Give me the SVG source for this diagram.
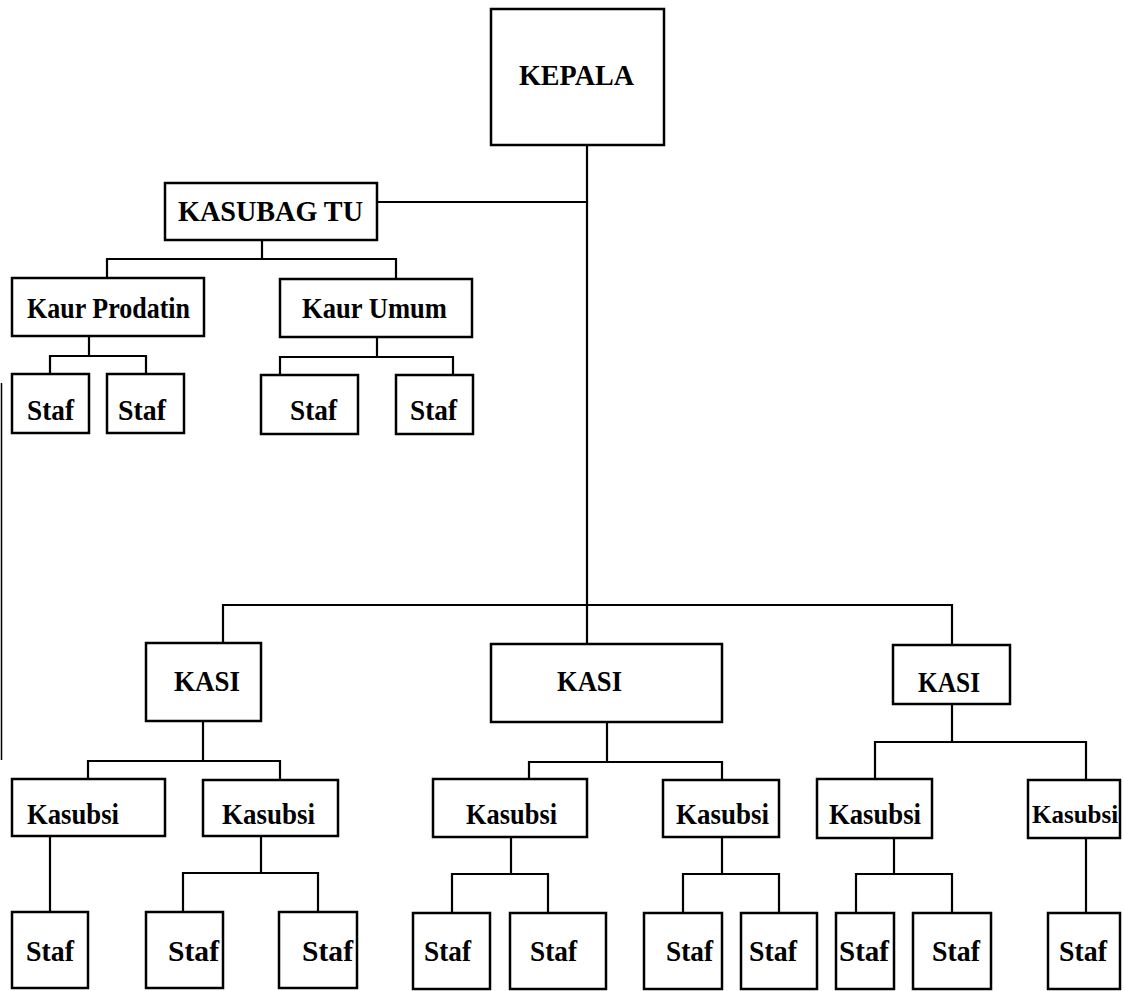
<svg xmlns="http://www.w3.org/2000/svg" width="1124" height="991" viewBox="0 0 1124 991">
  <style>
    .box { fill: #ffffff; stroke: #000000; stroke-width: 2.5; }
    .lbl { font-family: "Liberation Serif", "Times New Roman", serif; font-weight: bold; font-size: 30px; fill: #000000; }
    .tight { font-size: 25px; }
    .wire { fill: none; stroke: #000000; stroke-width: 2.2; stroke-linecap: square; }
    .edge { fill: none; stroke: #000000; stroke-width: 1.5; }
  </style>
  <rect x="0" y="0" width="1124" height="991" fill="#ffffff"/>

  <!-- page edge line at left -->
  <line class="edge" x1="1.5" y1="383" x2="1.5" y2="760"/>

  <g id="connectors">
    <!-- main spine from KEPALA -->
    <path class="wire" d="M587 145 V644"/>
    <path class="wire" d="M377 202 H587"/>
    <!-- KASUBAG TU branch -->
    <path class="wire" d="M262 240 V259 M107 278 V259 H396 V279"/>
    <path class="wire" d="M89 336 V356 M50 374 V356 H146 V374"/>
    <path class="wire" d="M377 337 V357 M280 375 V357 H453 V375"/>
    <!-- KASI bus -->
    <path class="wire" d="M223 643 V605 H952 V645"/>
    <!-- left KASI -->
    <path class="wire" d="M203 721 V761 M88 779 V761 H280 V780"/>
    <path class="wire" d="M50 836 V912"/>
    <path class="wire" d="M261 836 V873 M183 912 V873 H318 V912"/>
    <!-- middle KASI -->
    <path class="wire" d="M607 722 V762 M529 779 V762 H722 V780"/>
    <path class="wire" d="M511 837 V874 M452 913 V874 H548 V913"/>
    <path class="wire" d="M722 837 V874 M683 913 V874 H779 V913"/>
    <!-- right KASI -->
    <path class="wire" d="M952 704 V742 M875 779 V742 H1086 V780"/>
    <path class="wire" d="M894 838 V874 M856 913 V874 H952 V913"/>
    <path class="wire" d="M1086 838 V913"/>
  </g>

  <g id="kepala"><rect class="box" x="491" y="9" width="173" height="136"/><text class="lbl" x="519" y="85" textLength="115" lengthAdjust="spacingAndGlyphs">KEPALA</text></g>

  <g id="kasubag-tu"><rect class="box" x="165" y="183" width="212" height="57"/><text class="lbl" x="178" y="221" textLength="185" lengthAdjust="spacingAndGlyphs">KASUBAG TU</text></g>

  <g id="kaur-prodatin"><rect class="box" x="12" y="278" width="192" height="58"/><text class="lbl" x="27" y="318" textLength="163" lengthAdjust="spacingAndGlyphs">Kaur Prodatin</text></g>
  <g id="kaur-umum"><rect class="box" x="280" y="279" width="192" height="58"/><text class="lbl" x="302" y="318" textLength="145" lengthAdjust="spacingAndGlyphs">Kaur Umum</text></g>

  <g id="staf-p1"><rect class="box" x="12" y="374" width="77" height="59"/><text class="lbl" x="27" y="420" textLength="47" lengthAdjust="spacingAndGlyphs">Staf</text></g>
  <g id="staf-p2"><rect class="box" x="107" y="374" width="77" height="59"/><text class="lbl" x="118" y="420" textLength="48" lengthAdjust="spacingAndGlyphs">Staf</text></g>
  <g id="staf-u1"><rect class="box" x="261" y="375" width="97" height="59"/><text class="lbl" x="290" y="420" textLength="47" lengthAdjust="spacingAndGlyphs">Staf</text></g>
  <g id="staf-u2"><rect class="box" x="396" y="375" width="77" height="59"/><text class="lbl" x="410" y="420" textLength="47" lengthAdjust="spacingAndGlyphs">Staf</text></g>

  <g id="kasi-1"><rect class="box" x="146" y="643" width="115" height="78"/><text class="lbl" x="174" y="691" textLength="66" lengthAdjust="spacingAndGlyphs">KASI</text></g>
  <g id="kasi-2"><rect class="box" x="491" y="644" width="231" height="78"/><text class="lbl" x="557" y="691" textLength="65" lengthAdjust="spacingAndGlyphs">KASI</text></g>
  <g id="kasi-3"><rect class="box" x="893" y="645" width="117" height="59"/><text class="lbl" x="918" y="692" textLength="62" lengthAdjust="spacingAndGlyphs">KASI</text></g>

  <g id="kasubsi-1a"><rect class="box" x="12" y="779" width="153" height="57"/><text class="lbl" x="27" y="824" textLength="92" lengthAdjust="spacingAndGlyphs">Kasubsi</text></g>
  <g id="kasubsi-1b"><rect class="box" x="203" y="780" width="135" height="56"/><text class="lbl" x="222" y="824" textLength="93" lengthAdjust="spacingAndGlyphs">Kasubsi</text></g>
  <g id="kasubsi-2a"><rect class="box" x="433" y="779" width="154" height="58"/><text class="lbl" x="466" y="824" textLength="91" lengthAdjust="spacingAndGlyphs">Kasubsi</text></g>
  <g id="kasubsi-2b"><rect class="box" x="663" y="780" width="116" height="57"/><text class="lbl" x="676" y="824" textLength="93" lengthAdjust="spacingAndGlyphs">Kasubsi</text></g>
  <g id="kasubsi-3a"><rect class="box" x="817" y="779" width="115" height="59"/><text class="lbl" x="829" y="824" textLength="92" lengthAdjust="spacingAndGlyphs">Kasubsi</text></g>
  <g id="kasubsi-3b"><rect class="box" x="1028" y="780" width="92" height="58"/><text class="lbl tight" x="1032" y="823">Kasubsi</text></g>

  <g id="staf-1"><rect class="box" x="12" y="912" width="76" height="76"/><text class="lbl" x="26" y="961" textLength="48" lengthAdjust="spacingAndGlyphs">Staf</text></g>
  <g id="staf-2"><rect class="box" x="146" y="912" width="77" height="76"/><text class="lbl" x="168" y="961" textLength="51" lengthAdjust="spacingAndGlyphs">Staf</text></g>
  <g id="staf-3"><rect class="box" x="279" y="912" width="78" height="76"/><text class="lbl" x="302" y="961" textLength="51" lengthAdjust="spacingAndGlyphs">Staf</text></g>
  <g id="staf-4"><rect class="box" x="413" y="913" width="77" height="76"/><text class="lbl" x="424" y="961" textLength="47" lengthAdjust="spacingAndGlyphs">Staf</text></g>
  <g id="staf-5"><rect class="box" x="510" y="913" width="96" height="76"/><text class="lbl" x="530" y="961" textLength="47" lengthAdjust="spacingAndGlyphs">Staf</text></g>
  <g id="staf-6"><rect class="box" x="644" y="913" width="78" height="76"/><text class="lbl" x="666" y="961" textLength="47" lengthAdjust="spacingAndGlyphs">Staf</text></g>
  <g id="staf-7"><rect class="box" x="741" y="913" width="76" height="76"/><text class="lbl" x="749" y="961" textLength="48" lengthAdjust="spacingAndGlyphs">Staf</text></g>
  <g id="staf-8"><rect class="box" x="836" y="913" width="58" height="76"/><text class="lbl" x="839" y="961" textLength="50" lengthAdjust="spacingAndGlyphs">Staf</text></g>
  <g id="staf-9"><rect class="box" x="913" y="913" width="78" height="76"/><text class="lbl" x="932" y="961" textLength="48" lengthAdjust="spacingAndGlyphs">Staf</text></g>
  <g id="staf-10"><rect class="box" x="1048" y="913" width="72" height="76"/><text class="lbl" x="1059" y="961" textLength="48" lengthAdjust="spacingAndGlyphs">Staf</text></g>
</svg>
